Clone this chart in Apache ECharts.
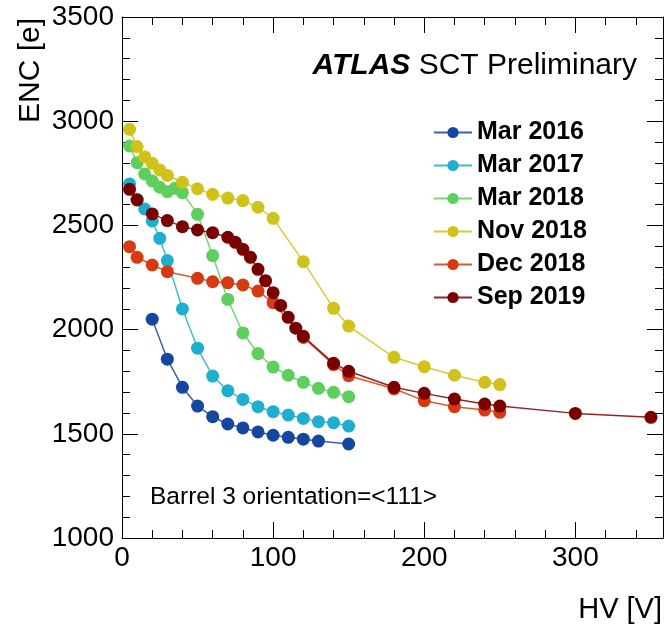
<!DOCTYPE html>
<html>
<head>
<meta charset="utf-8">
<script src="https://cdn.jsdelivr.net/npm/echarts@6/dist/echarts.min.js"></script>
<style>
  html, body { margin: 0; padding: 0; background: #fff; }
  #chart { width: 664px; height: 628px; }
</style>
</head>
<body>
<div id="chart"></div>
<script>
// HV [V] and ENC [e], one pair of arrays per scan
var hvMar2016  = [20, 30, 40, 50, 60, 70, 80, 90, 100, 110, 120, 130, 150];
var encMar2016 = [2050, 1858, 1723, 1633, 1582, 1547, 1528, 1509, 1493, 1483, 1474, 1465, 1451];

var hvMar2017  = [5, 10, 15, 20, 25, 30, 40, 50, 60, 70, 80, 90, 100, 110, 120, 130, 140, 150];
var encMar2017 = [2699, 2625, 2579, 2521, 2438, 2331, 2099, 1911, 1777, 1707, 1665, 1630, 1606, 1590, 1574, 1558, 1553, 1537];

var hvMar2018  = [5, 10, 15, 20, 25, 30, 35, 40, 50, 60, 70, 80, 90, 100, 110, 120, 130, 140, 150];
var encMar2018 = [2881, 2801, 2747, 2713, 2683, 2662, 2678, 2657, 2553, 2355, 2145, 1984, 1885, 1820, 1781, 1747, 1718, 1699, 1678];

var hvNov2018  = [5, 10, 15, 20, 25, 30, 40, 50, 60, 70, 80, 90, 100, 120, 140, 150, 180, 200, 220, 240, 250];
var encNov2018 = [2961, 2878, 2830, 2798, 2766, 2740, 2707, 2676, 2649, 2631, 2619, 2587, 2534, 2326, 2102, 2017, 1867, 1822, 1781, 1747, 1736];

var hvDec2018  = [5, 10, 20, 30, 50, 60, 70, 80, 90, 100, 120, 140, 150, 180, 200, 220, 240, 250];
var encDec2018 = [2398, 2347, 2310, 2278, 2246, 2230, 2225, 2214, 2185, 2129, 1962, 1832, 1779, 1716, 1659, 1630, 1614, 1603];

var hvSep2019  = [5, 10, 20, 30, 40, 50, 60, 70, 75, 80, 85, 90, 95, 100, 105, 110, 115, 120, 140, 150, 180, 200, 220, 240, 250, 300, 350];
var encSep2019 = [2673, 2622, 2555, 2523, 2494, 2478, 2465, 2443, 2419, 2385, 2347, 2289, 2235, 2177, 2116, 2059, 2007, 1968, 1838, 1800, 1723, 1694, 1667, 1643, 1633, 1598, 1579];

var seriesNames  = ['Mar 2016', 'Mar 2017', 'Mar 2018', 'Nov 2018', 'Dec 2018', 'Sep 2019'];
var seriesColors = ['#1546a0', '#1eaecf', '#5ccf5c', '#cfc21a', '#d63a10', '#7a0000'];

var font = 'Liberation Sans, Arial, Helvetica, sans-serif';

// pair two arrays into [x, y] points
function zip(xs, ys) {
  var out = [];
  for (var i = 0; i < xs.length; i++) {
    out.push([xs[i], ys[i]]);
  }
  return out;
}

function makeSeries(i, xs, ys) {
  return {
    name: seriesNames[i],
    type: 'line',
    data: zip(xs, ys),
    symbol: 'circle',
    symbolSize: 13,
    itemStyle: { color: seriesColors[i] },
    lineStyle: { color: seriesColors[i], width: 1.5, opacity: 0.85 },
    emphasis: { disabled: true },
    animation: false
  };
}

// axis look shared by all four frame sides
function frameAxis(extra) {
  var ax = {
    axisLine: { show: true, onZero: false, lineStyle: { color: '#000', width: 1 } },
    axisTick: { show: true, inside: true, length: 16, lineStyle: { color: '#000', width: 1 } },
    minorTick: { show: true, splitNumber: 5, length: 8, lineStyle: { color: '#000', width: 1 } },
    splitLine: { show: false },
    minorSplitLine: { show: false }
  };
  for (var k in extra) ax[k] = extra[k];
  return ax;
}

function plain(v) { return String(v); }

var chart = echarts.init(document.getElementById('chart'));

var option = {
  backgroundColor: '#fff',
  animation: false,
  grid: { left: 122, right: 1, top: 17, bottom: 90, containLabel: false },
  legend: {
    orient: 'vertical',
    left: 433,
    top: 120,
    padding: 0,
    itemWidth: 38,
    itemHeight: 14,
    itemGap: 8,
    selectedMode: false,
    data: seriesNames,
    textStyle: { fontFamily: font, fontSize: 25, fontWeight: 'bold', color: '#000', lineHeight: 25 }
  },
  xAxis: [
    frameAxis({
      type: 'value', min: 0, max: 358, interval: 100, position: 'bottom',
      axisLabel: { fontFamily: font, fontSize: 28, color: '#000', margin: 6, showMaxLabel: false, formatter: plain }
    }),
    frameAxis({
      type: 'value', min: 0, max: 358, interval: 100, position: 'top',
      axisLabel: { show: false }
    })
  ],
  yAxis: [
    frameAxis({
      type: 'value', min: 1000, max: 3500, interval: 500, position: 'left',
      axisLabel: { fontFamily: font, fontSize: 28, color: '#000', margin: 8, formatter: plain }
    }),
    frameAxis({
      type: 'value', min: 1000, max: 3500, interval: 500, position: 'right',
      axisLabel: { show: false }
    })
  ],
  graphic: [
    {
      type: 'text', x: 31, y: 18, rotation: Math.PI / 2,
      style: { text: 'ENC [e]', fontFamily: font, fontSize: 30, fill: '#000', textAlign: 'right', textVerticalAlign: 'middle' }
    },
    {
      type: 'text', x: 662, y: 610,
      style: { text: 'HV [V]', fontFamily: font, fontSize: 29, fill: '#000', textAlign: 'right', textVerticalAlign: 'middle' }
    },
    {
      type: 'text', x: 637, y: 66,
      style: {
        text: '{a|ATLAS} SCT Preliminary',
        fontFamily: font, fontSize: 30, fill: '#000', textAlign: 'right', textVerticalAlign: 'middle',
        rich: { a: { fontFamily: font, fontSize: 30, fontWeight: 'bold', fontStyle: 'italic', fill: '#000' } }
      }
    },
    {
      type: 'text', x: 150, y: 497,
      style: { text: 'Barrel 3 orientation=<111>', fontFamily: font, fontSize: 24.5, fill: '#000', textAlign: 'left', textVerticalAlign: 'middle' }
    }
  ],
  series: [
    makeSeries(0, hvMar2016, encMar2016),
    makeSeries(1, hvMar2017, encMar2017),
    makeSeries(2, hvMar2018, encMar2018),
    makeSeries(3, hvNov2018, encNov2018),
    makeSeries(4, hvDec2018, encDec2018),
    makeSeries(5, hvSep2019, encSep2019)
  ]
};

chart.setOption(option);
</script>
</body>
</html>
